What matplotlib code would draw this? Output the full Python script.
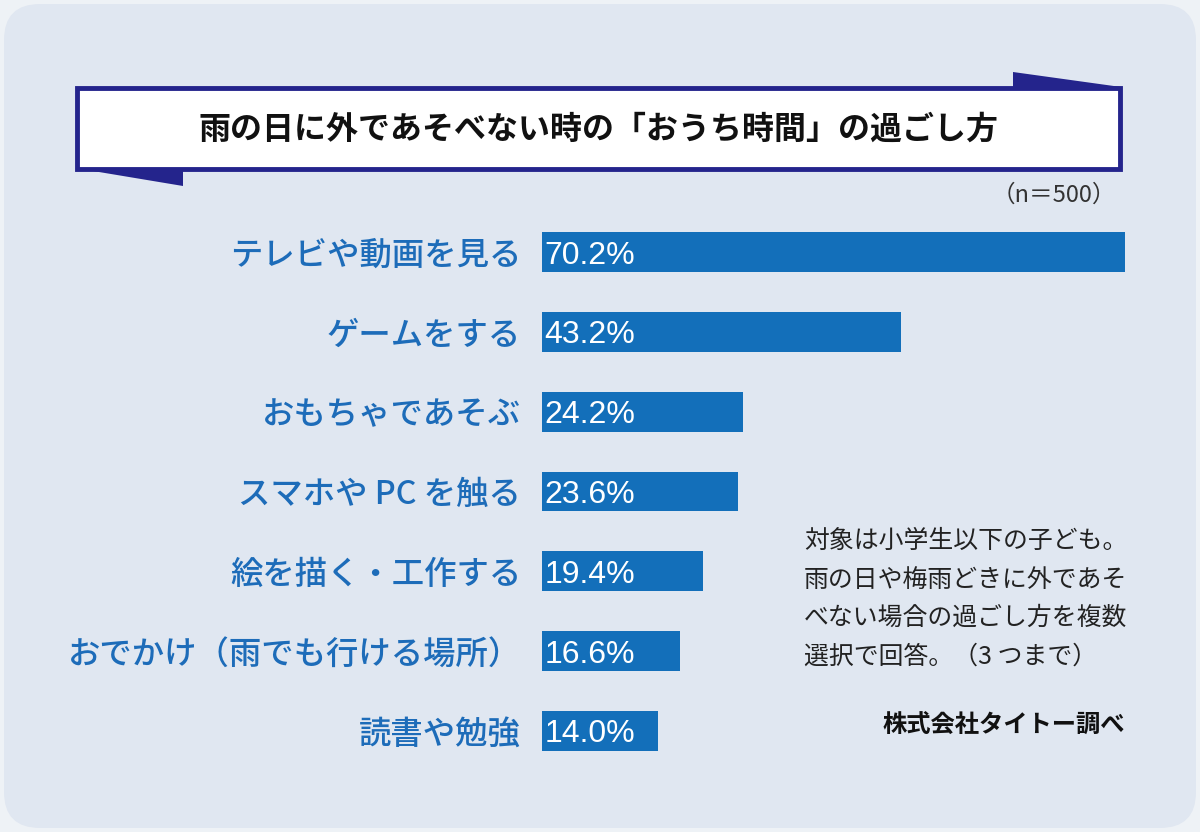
import matplotlib
matplotlib.use("Agg")
import matplotlib.pyplot as plt
from matplotlib.patches import FancyBboxPatch, Rectangle, Polygon

plt.rcParams['font.family'] = ['Noto Sans CJK JP', 'DejaVu Sans']

categories = ["テレビや動画を見る", "ゲームをする", "おもちゃであそぶ", "スマホや PC を触る",
              "絵を描く・工作する", "おでかけ（雨でも行ける場所）", "読書や勉強"]
values = [70.2, 43.2, 24.2, 23.6, 19.4, 16.6, 14.0]

title = "雨の日に外であそべない時の「おうち時間」の過ごし方"
sample_note = "（n＝500）"
note_lines = ["対象は小学生以下の子ども。", "雨の日や梅雨どきに外であそ",
              "べない場合の過ごし方を複数", "選択で回答。（3 つまで）"]
source = "株式会社タイトー調べ"

W, H = 1200, 832
fig = plt.figure(figsize=(W / 100, H / 100), dpi=100)
fig.patch.set_facecolor('#eef2f6')

def fx(x):
    return x / W

def fy(y):
    return 1 - y / H

# background rounded panel
bg = FancyBboxPatch((fx(4), fy(828)), fx(1192), 824 / H,
                    boxstyle="round,pad=0,rounding_size=0.03",
                    transform=fig.transFigure, facecolor='#e0e7f1',
                    edgecolor='none', mutation_aspect=W / H, zorder=-5)
fig.patches.append(bg)

navy = '#24248c'
# banner flaps
fig.patches.append(Polygon([(fx(1013), fy(72)), (fx(1121), fy(87)), (fx(1013), fy(88))],
                           closed=True, transform=fig.transFigure, facecolor=navy,
                           edgecolor='none', zorder=-4))
fig.patches.append(Polygon([(fx(75), fy(168)), (fx(183), fy(186)), (fx(183), fy(168))],
                           closed=True, transform=fig.transFigure, facecolor=navy,
                           edgecolor='none', zorder=-4))
# banner box
fig.patches.append(Rectangle((fx(77), fy(169)), fx(1043), 81 / H, transform=fig.transFigure,
                             facecolor='white', edgecolor=navy, linewidth=3.5, zorder=-3))
fig.text(fx(598), fy(130), title, ha='center', va='center', fontsize=23,
         fontweight='bold', color='#111111')
fig.text(fx(1116), fy(195), sample_note, ha='right', va='center', fontsize=17,
         color='#333333')

# bar chart axes
spacing = 79.8
top = 252 - spacing / 2
bottom = 731 + spacing / 2
ax = fig.add_axes([fx(542), fy(bottom), fx(1125 - 542), (bottom - top) / H])
ax.set_facecolor('none')
ypos = list(range(len(categories)))
ax.barh(ypos, values, height=0.5, color='#136fba', left=0)
ax.set_xlim(0, 70.2)
ax.set_ylim(len(categories) - 0.5, -0.5)
ax.set_yticks(ypos)
ax.set_yticklabels(categories, fontsize=23.3, color='#1d6cb9', fontweight='medium')
ax.tick_params(axis='y', length=0, pad=15)
ax.set_xticks([])
for s in ax.spines.values():
    s.set_visible(False)
for i, v in enumerate(values):
    ax.text(0.3, i, f"{v:.1f}%", ha='left', va='center_baseline', color='white',
            fontsize=23, family=['Liberation Sans', 'DejaVu Sans'])

# notes
for k, line in enumerate(note_lines):
    fig.text(fx(804), fy(541 + k * 38.5), line, ha='left', va='center', fontsize=17.9,
             color='#222222')
fig.text(fx(1125), fy(725), source, ha='right', va='center', fontsize=17.5,
         fontweight='bold', color='#111111')

fig.savefig("out.png", dpi=100, facecolor=fig.get_facecolor())
